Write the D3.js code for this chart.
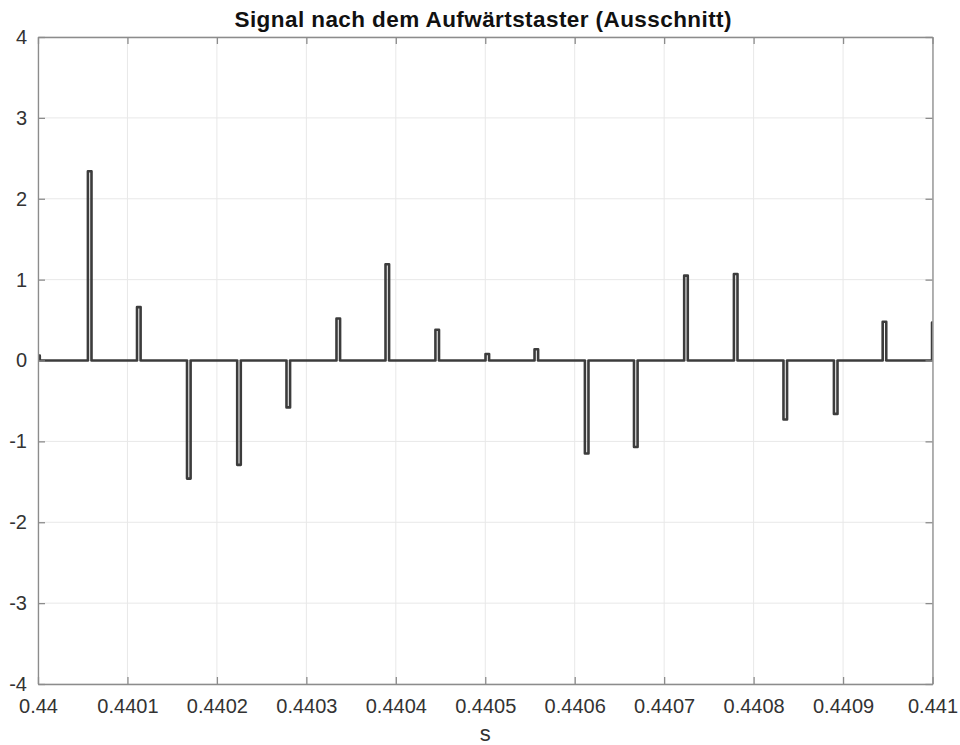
<!DOCTYPE html>
<html>
<head>
<meta charset="utf-8">
<script src="https://cdn.jsdelivr.net/npm/d3@7"></script>
<style>
  body { margin: 0; background: #fff; }
  svg text { font-family: "Liberation Sans", Arial, Helvetica, sans-serif; }
</style>
</head>
<body>
<main></main>
<script>
const width = 960;
const height = 745;

// pulse centre times (s) and amplitudes
const pulseTimes = [0.4400000, 0.4400578, 0.4401127, 0.4401686, 0.4402247, 0.4402798,
                    0.4403357, 0.4403905, 0.4404463, 0.4405023, 0.4405571, 0.4406134,
                    0.4406683, 0.4407244, 0.4407800, 0.4408354, 0.4408918, 0.4409463,
                    0.4410015];
const pulseValues = [0.06, 2.34, 0.66, -1.46, -1.29, -0.58,
                     0.52, 1.19, 0.38, 0.08, 0.14, -1.15,
                     -1.07, 1.05, 1.07, -0.73, -0.66, 0.48,
                     0.47];
const pulseWidth = 0.0000040;

const xTicks = [0.44, 0.4401, 0.4402, 0.4403, 0.4404, 0.4405, 0.4406, 0.4407, 0.4408, 0.4409, 0.441];
const xTickLabels = ["0.44", "0.4401", "0.4402", "0.4403", "0.4404", "0.4405", "0.4406", "0.4407", "0.4408", "0.4409", "0.441"];
const yTicks = [-4, -3, -2, -1, 0, 1, 2, 3, 4];
const yTickLabels = ["-4", "-3", "-2", "-1", "0", "1", "2", "3", "4"];

const margin = {left: 38, right: 27.5, top: 37, bottom: 61};

const createCanvas = () => {
    return d3.select("main")
             .append("svg")
             .attr("width", width)
             .attr("height", height);
};

const calculateScales = () => {
    const xScale = d3.scaleLinear()
                     .domain([0.44, 0.441])
                     .range([margin.left, width - margin.right]);
    const yScale = d3.scaleLinear()
                     .domain([-4, 4])
                     .range([height - margin.bottom, margin.top]);
    return {xScale, yScale};
};

const createGrid = (scales, svg) => {
    const {xScale, yScale} = scales;
    svg.append("g")
       .selectAll("line")
       .data(xTicks)
       .enter()
       .append("line")
       .attr("x1", d => xScale(d))
       .attr("x2", d => xScale(d))
       .attr("y1", yScale(-4))
       .attr("y2", yScale(4))
       .attr("stroke", "#e8e8e8")
       .attr("stroke-width", 1);
    svg.append("g")
       .selectAll("line")
       .data(yTicks)
       .enter()
       .append("line")
       .attr("x1", xScale(0.44))
       .attr("x2", xScale(0.441))
       .attr("y1", d => yScale(d))
       .attr("y2", d => yScale(d))
       .attr("stroke", "#e8e8e8")
       .attr("stroke-width", 1);
};

const createAxes = (scales, svg) => {
    const {xScale, yScale} = scales;
    const [y0, y1] = yScale.range();
    const [x0, x1] = xScale.range();

    const xAxis = svg.append("g")
       .attr("transform", `translate(0, ${y0})`)
       .call(d3.axisBottom(xScale)
               .tickValues(xTicks)
               .tickFormat((d, i) => xTickLabels[i])
               .tickSizeInner(-7)
               .tickSizeOuter(0)
               .tickPadding(15));
    const yAxis = svg.append("g")
       .attr("transform", `translate(${x0}, 0)`)
       .call(d3.axisLeft(yScale)
               .tickValues(yTicks)
               .tickFormat((d, i) => yTickLabels[i])
               .tickSizeInner(-7)
               .tickSizeOuter(0)
               .tickPadding(11));
    const xTop = svg.append("g")
       .attr("transform", `translate(0, ${y1})`)
       .call(d3.axisTop(xScale).tickValues(xTicks).tickFormat("").tickSizeInner(-7).tickSizeOuter(0));
    const yRight = svg.append("g")
       .attr("transform", `translate(${x1}, 0)`)
       .call(d3.axisRight(yScale).tickValues(yTicks).tickFormat("").tickSizeInner(-7).tickSizeOuter(0));

    [xAxis, yAxis, xTop, yRight].forEach(g => {
        g.selectAll("path, line").attr("stroke", "#8c8c8c").attr("stroke-width", 1.3);
        g.selectAll("text")
         .attr("fill", "#333")
         .style("font-size", "20px");
    });

    svg.append("text")
       .attr("x", (x0 + x1) / 2)
       .attr("y", 741)
       .attr("text-anchor", "middle")
       .attr("fill", "#333")
       .style("font-size", "22px")
       .text("s");

    svg.append("text")
       .attr("x", 483)
       .attr("y", 27)
       .attr("text-anchor", "middle")
       .attr("fill", "#111")
       .attr("textLength", 497)
       .attr("lengthAdjust", "spacing")
       .style("font-size", "22.5px")
       .style("font-weight", "bold")
       .text("Signal nach dem Aufwärtstaster (Ausschnitt)");
};

const createSignal = (scales, svg) => {
    const {xScale, yScale} = scales;
    // build a step signal: zero baseline with a rectangular pulse at each time
    const points = [[0.4399, 0]];
    pulseTimes.forEach((t, i) => {
        points.push([t - pulseWidth / 2, 0]);
        points.push([t - pulseWidth / 2, pulseValues[i]]);
        points.push([t + pulseWidth / 2, pulseValues[i]]);
        points.push([t + pulseWidth / 2, 0]);
    });
    points.push([0.4411, 0]);

    svg.append("clipPath")
       .attr("id", "plot-clip")
       .append("rect")
       .attr("x", xScale(0.44))
       .attr("y", yScale(4))
       .attr("width", xScale(0.441) - xScale(0.44))
       .attr("height", yScale(-4) - yScale(4));

    const line = d3.line()
                   .x(d => xScale(d[0]))
                   .y(d => yScale(d[1]));

    svg.append("path")
       .datum(points)
       .attr("clip-path", "url(#plot-clip)")
       .attr("d", line)
       .attr("fill", "none")
       .attr("stroke", "#3c3c3c")
       .attr("stroke-width", 2.6)
       .attr("stroke-linejoin", "round");
};

const driver = () => {
    const svg = createCanvas();
    const scales = calculateScales();
    createGrid(scales, svg);
    createSignal(scales, svg);
    createAxes(scales, svg);
};

driver();
</script>
</body>
</html>
